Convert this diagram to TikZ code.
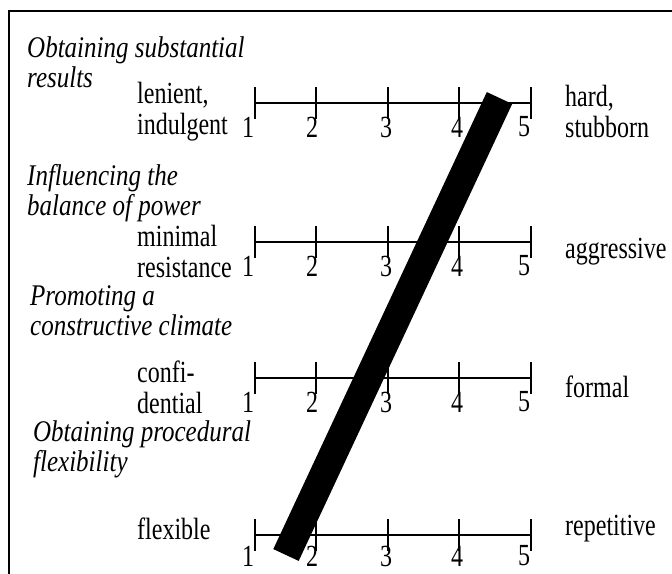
\documentclass[tikz,border=0pt]{standalone}
\usepackage{fontspec}
\usepackage{graphicx}
\setmainfont{Liberation Serif}
\newcommand{\tallt}[1]{\scalebox{1}[1.28]{#1}}
\newcommand{\tallit}[1]{\scalebox{1}[1.2]{#1}}
\begin{document}
\begin{tikzpicture}[x=1pt,y=-1pt,
  txt/.style={inner sep=0pt, anchor=west, align=left, font=\fontsize{24}{31}\selectfont},
  ital/.style={inner sep=0pt, anchor=west, align=left, font=\fontsize{25}{30}\selectfont\itshape},
  num/.style={inner sep=0pt, font=\fontsize{24}{31}\selectfont},
  axisline/.style={line width=2.5pt},
  framestyle/.style={line width=2.5pt},
  barstyle/.style={line width=28pt}]
\useasboundingbox (0,0) rectangle (672,573);
\clip (0,0) rectangle (672,573);
% frame (open on the right and bottom)
\coordinate (fbl) at (9,590);
\coordinate (ftl) at (9,11);
\coordinate (ftr) at (690,11);
\draw[framestyle] (fbl) -- (ftl) -- (ftr);

% scales
\foreach \n/\yy/\dy in {a/103/24, b/242/24, c/378/24, d/535/21} {
  \foreach \k/\xx/\nx in {1/255/248, 2/316/312, 3/388/386, 4/459/457, 5/531/524} {
    \coordinate (\n\k) at (\xx,\yy);
    \coordinate (\n\k u) at (\xx,\yy-16);
    \coordinate (\n\k d) at (\xx,\yy+16);
    \draw[axisline] (\n\k u) -- (\n\k d);
    \node[num] (\n num\k) at (\nx,\yy+\dy) {\tallt{\k}};
  }
  \draw[axisline] (\n1) -- (\n5);
}

% italic headings
\node[ital] (h1) at (27,62.5) {\tallit{Obtaining substantial}\\\tallit{results}};
\node[ital] (h2) at (27,193) {\tallit{Influencing the}\\\tallit{balance of power}};
\node[ital] (h3) at (30,311) {\tallit{Promoting a}\\\tallit{constructive climate}};
\node[ital] (h4) at (33,449) {\tallit{Obtaining procedural}\\\tallit{flexibility}};

% left pole labels
\node[txt] (l1) at (137,111.5) {\tallt{lenient,}\\\tallt{indulgent}};
\node[txt] (l2) at (137,251) {\tallt{minimal}\\\tallt{resistance}};
\node[txt] (l3) at (137,387) {\tallt{confi-}\\\tallt{dential}};
\node[txt] (l4) at (137,529) {\tallt{flexible}};

% right pole labels
\node[txt] (r1) at (565,111.5) {\tallt{hard,}\\\tallt{stubborn}};
\node[txt] (r2) at (565,252) {\tallt{aggressive}};
\node[txt] (r3) at (565,387) {\tallt{formal}};
\node[txt] (r4) at (565,529) {\tallt{repetitive}};

% profile bar
\coordinate (bartop) at (499.5,98);
\coordinate (barbot) at (286,555);
\draw[barstyle] (barbot) -- (bartop);
\end{tikzpicture}
\end{document}
